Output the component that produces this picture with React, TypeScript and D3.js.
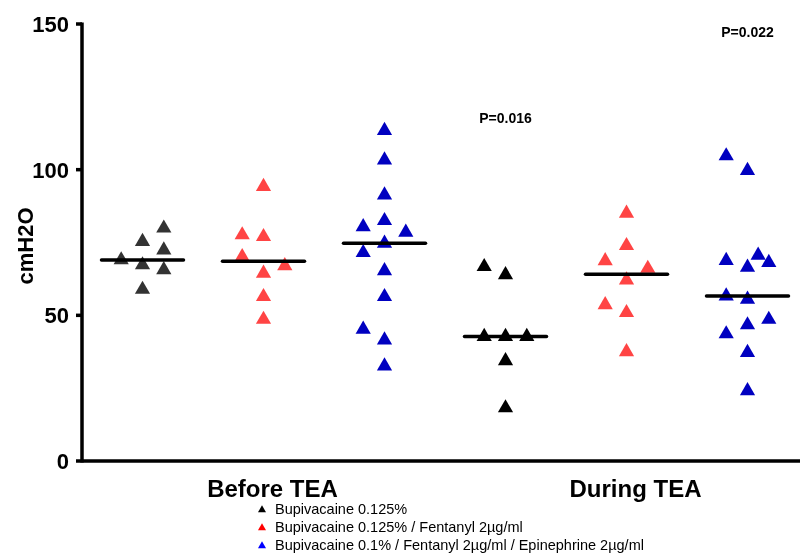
import React from 'react';
import * as d3 from 'd3';

// constants
const width = 800;
const height = 553;
const margin = { top: 24, right: 0, bottom: 92, left: 82 };

// groups (3 treatments x 2 periods)
const groups = ['before-b', 'before-bf', 'before-bfe', 'during-b', 'during-bf', 'during-bfe'];
const groupColors = ['#333333', '#ff4444', '#0000c0', '#000000', '#ff4444', '#0000c0'];

// values in cmH2O; lanes = scatter column of each point
const beforeBupi = [79.9, 75.3, 72.4, 69.0, 67.3, 65.6, 58.9];
const beforeBupiLanes = [1, 0, 1, -1, 0, 1, 0];
const beforeFent = [94.2, 77.6, 77.0, 70.1, 67.0, 64.4, 56.4, 48.6];
const beforeFentLanes = [0, -1, 0, -1, 1, 0, 0, 0];
const beforeEpi = [113.4, 103.3, 91.3, 82.5, 80.4, 78.5, 74.7, 71.5, 65.3, 56.4, 45.2, 41.5, 32.6];
const beforeEpiLanes = [0, 0, 0, 0, -1, 1, 0, -1, 0, 0, -1, 0, 0];
const duringBupi = [66.7, 63.9, 42.7, 42.7, 42.7, 34.4, 18.2];
const duringBupiLanes = [-1, 0, -1, 0, 1, 0, 0];
const duringFent = [85.0, 73.9, 68.7, 66.1, 62.1, 53.6, 50.9, 37.5];
const duringFentLanes = [0, 0, -1, 1, 0, -1, 0, 0];
const duringEpi = [104.7, 99.7, 70.6, 68.8, 68.1, 66.5, 56.6, 55.5, 48.6, 46.7, 43.6, 37.2, 24.1];
const duringEpiLanes = [-1, 0, 0.5, -1, 1, 0, -1, 0, 1, 0, -1, 0, 0];

const groupValues = [beforeBupi, beforeFent, beforeEpi, duringBupi, duringFent, duringEpi];
const groupLanes = [beforeBupiLanes, beforeFentLanes, beforeEpiLanes, duringBupiLanes, duringFentLanes, duringEpiLanes];

const periodLabels = ['Before TEA', 'During TEA'];
const yTicks = [0, 50, 100, 150];
const pLabels = [
  { group: 'during-b', value: 116, text: 'P=0.016' },
  { group: 'during-bfe', value: 145.5, text: 'P=0.022' },
];
const legendLabels = [
  'Bupivacaine 0.125%',
  'Bupivacaine 0.125% / Fentanyl 2µg/ml',
  'Bupivacaine 0.1% / Fentanyl 2µg/ml / Epinephrine 2µg/ml',
];
const legendColors = ['#000000', '#ff0000', '#0000ff'];

const font = 'Liberation Sans, Arial, Helvetica, sans-serif';

const App = () => {
  const x = d3.scaleBand().domain(groups).range([margin.left, margin.left + 6 * 121]);
  const y = d3.scaleLinear().domain([0, 150]).range([height - margin.bottom, margin.top]);
  const lane = d3.scaleLinear().domain([-1, 1]).range([-21.3, 21.3]);
  const tri = d3.symbol().type(d3.symbolTriangle).size(100)();
  const smallTri = d3.symbol().type(d3.symbolTriangle).size(28)();
  const cx = (g: string) => (x(g) as number) + x.bandwidth() / 2;

  const y0 = y(0);
  const axisX = margin.left;

  return (
    <svg width={width} height={height} style={{ position: 'fixed', left: 0, top: 0 }} fontFamily={font}>
      {/* points */}
      {groups.map((g, gi) => (
        <g key={g} fill={groupColors[gi]}>
          {groupValues[gi].map((v, i) => (
            <path key={i} d={tri} transform={`translate(${cx(g) + lane(groupLanes[gi][i])},${y(v)})`} />
          ))}
        </g>
      ))}
      {/* medians */}
      {groups.map((g, gi) => {
        const m = d3.median(groupValues[gi]) as number;
        return (
          <line key={g} x1={cx(g) - 41} x2={cx(g) + 41} y1={y(m)} y2={y(m)} stroke="#000" strokeWidth={3.5} strokeLinecap="round" />
        );
      })}
      {/* y axis */}
      <line x1={axisX} x2={axisX} y1={y(150) - 1.5} y2={y0 + 1.5} stroke="#000" strokeWidth={3.5} />
      {yTicks.map((t) => (
        <g key={t}>
          <line x1={axisX - 6} x2={axisX} y1={y(t)} y2={y(t)} stroke="#000" strokeWidth={3.5} />
          <text x={axisX - 13} y={y(t)} dy="0.36em" textAnchor="end" fontSize={22} fontWeight="bold">{t}</text>
        </g>
      ))}
      <text transform={`translate(33,246) rotate(-90)`} textAnchor="middle" fontSize={22} fontWeight="bold">cmH2O</text>
      {/* x axis */}
      <line x1={axisX} x2={width} y1={y0} y2={y0} stroke="#000" strokeWidth={3.5} />
      {periodLabels.map((p, i) => (
        <text key={p} x={cx(groups[i * 3 + 1]) + 9} y={497} textAnchor="middle" fontSize={24} fontWeight="bold">{p}</text>
      ))}
      {/* p values */}
      {pLabels.map((p) => (
        <text key={p.text} x={cx(p.group)} y={y(p.value)} textAnchor="middle" fontSize={14} fontWeight="bold">{p.text}</text>
      ))}
      {/* legend */}
      {legendLabels.map((l, i) => (
        <g key={l} transform={`translate(262,${509 + i * 18})`}>
          <path d={smallTri} fill={legendColors[i]} transform="translate(0,1)" />
          <text x={13} y={0} dy="0.36em" fontSize={14.5}>{l}</text>
        </g>
      ))}
    </svg>
  );
};

export default App;
